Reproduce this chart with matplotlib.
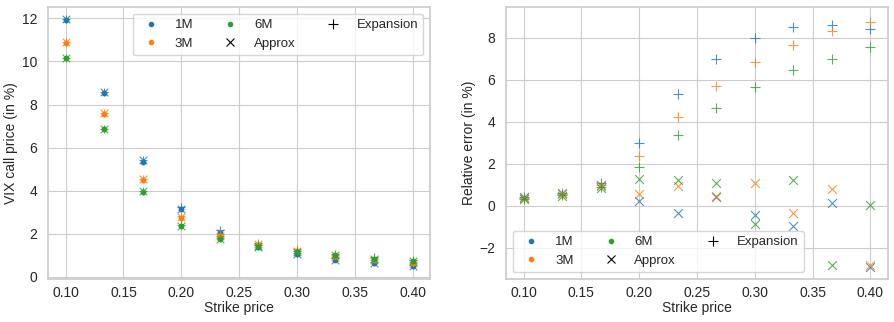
import numpy as np
import matplotlib
matplotlib.use('Agg')
import matplotlib.pyplot as plt
import seaborn as sns
from matplotlib.lines import Line2D

sns.set_style('whitegrid')
plt.rcParams['font.family'] = ['Liberation Sans', 'DejaVu Sans']
plt.rcParams['font.size'] = 10
plt.rcParams['xtick.major.pad'] = 2
plt.rcParams['ytick.major.pad'] = 4.5
plt.rcParams['axes.linewidth'] = 1.25

strikes = np.linspace(0.1, 0.4, 10)
maturities = ['1M', '3M', '6M']
colors = ['tab:blue', 'tab:orange', 'tab:green']

# VIX call prices (market)
price_1m = [11.9, 8.55, 5.35, 3.15, 2.05, 1.4, 1.05, 0.8, 0.65, 0.5]
price_3m = [10.85, 7.55, 4.5, 2.75, 1.9, 1.5, 1.2, 0.95, 0.8, 0.65]
price_6m = [10.15, 6.85, 3.95, 2.35, 1.75, 1.4, 1.15, 1.0, 0.85, 0.75]

# relative errors of the expansion (in %)
exp_err_1m = [0.4, 0.6, 1.1, 3.0, 5.3, 7.0, 8.0, 8.5, 8.6, 8.4]
exp_err_3m = [0.35, 0.55, 1.0, 2.35, 4.2, 5.7, 6.85, 7.65, 8.3, 8.75]
exp_err_6m = [0.3, 0.5, 0.9, 1.85, 3.35, 4.65, 5.65, 6.45, 7.0, 7.55]

# relative errors of the approximation (in %)
app_err_1m = [0.4, 0.6, 1.0, 0.2, -0.35, 0.4, -0.45, -0.95, 0.15, -2.9]
app_err_3m = [0.35, 0.55, 0.95, 0.55, 0.95, 0.45, 1.1, -0.35, 0.8, -2.8]
app_err_6m = [0.3, 0.45, 0.85, 1.25, 1.2, 1.1, -0.85, 1.2, -2.8, 0.05]

prices = [price_1m, price_3m, price_6m]
exp_errs = [exp_err_1m, exp_err_3m, exp_err_6m]
app_errs = [app_err_1m, app_err_3m, app_err_6m]

fig, (ax1, ax2) = plt.subplots(1, 2, figsize=(8.95, 3.22), dpi=100)

for p, ee, ae, c in zip(prices, exp_errs, app_errs, colors):
    # model prices from the relative errors
    p = np.array(p)
    ax1.scatter(strikes, p, color=c, s=10, zorder=3)
    ax1.scatter(strikes, p * (1 + np.array(ae) / 100), color=c, marker='x', s=30, linewidths=0.8, alpha=0.8, zorder=3)
    ax1.scatter(strikes, p * (1 + np.array(ee) / 100), color=c, marker='+', s=40, linewidths=0.8, alpha=0.8, zorder=3)
    ax2.scatter(strikes, ae, color=c, marker='x', s=40, linewidths=0.8, alpha=0.8, zorder=3)
    ax2.scatter(strikes, ee, color=c, marker='+', s=50, linewidths=0.8, alpha=0.8, zorder=3)

handles = [Line2D([], [], ls='', marker='o', ms=3, color=c) for c in colors]
handles += [Line2D([], [], ls='', marker='x', ms=6, color='k', mew=0.8),
            Line2D([], [], ls='', marker='+', ms=7, color='k', mew=0.8)]
labels = maturities + ['Approx', 'Expansion']

ax1.set_xlabel('Strike price')
ax1.set_ylabel('VIX call price (in %)')
ax1.xaxis.set_label_coords(0.5, -0.082)
ax1.yaxis.set_label_coords(-0.079, 0.5)
ax1.legend(handles, labels, ncol=3, loc='upper right', fontsize=9.5, columnspacing=1.8)

ax2.set_xlabel('Strike price')
ax2.set_ylabel('Relative error (in %)')
ax2.xaxis.set_label_coords(0.5, -0.082)
ax2.yaxis.set_label_coords(-0.079, 0.5)
ax2.set_ylim(top=9.45)
ax2.legend(handles, labels, ncol=3, loc='lower left', fontsize=9.5, columnspacing=1.8)

fig.subplots_adjust(left=0.054, right=0.992, top=0.978, bottom=0.134, wspace=0.2)
plt.savefig('out.png')
